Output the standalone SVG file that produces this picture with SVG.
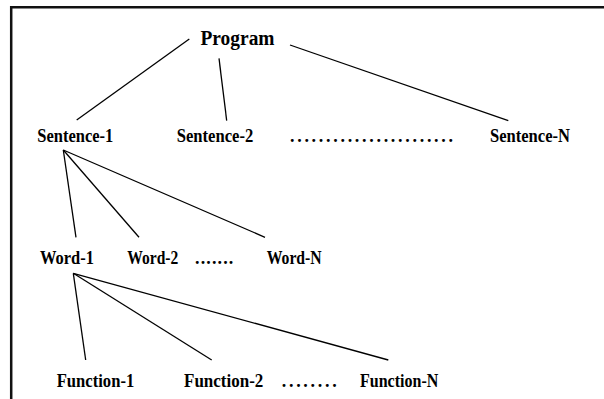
<svg xmlns="http://www.w3.org/2000/svg" width="604" height="399" viewBox="0 0 604 399">
  <style>
    .lbl { font-family: "Liberation Serif", "Times New Roman", serif; font-weight: bold; font-size: 18px; fill: #000; }
    .top { font-size: 20px; }
    .edge { stroke: #000; stroke-width: 1.3; fill: none; }
  </style>
  <rect width="604" height="399" fill="#fff"/>
  <path d="M11.2,399 V7.3 H604" fill="none" stroke="#111" stroke-width="2.5"/>
  <g id="connectors">
    <line class="edge" x1="189.3" y1="39" x2="76.7" y2="120"/>
    <line class="edge" x1="219" y1="58.3" x2="226.7" y2="120.7"/>
    <line class="edge" x1="290" y1="45" x2="508.3" y2="120.7"/>
    <line class="edge" x1="63.3" y1="150" x2="76" y2="237.3"/>
    <line class="edge" x1="63.3" y1="150" x2="139" y2="237.3"/>
    <line class="edge" x1="63.3" y1="150" x2="265" y2="237.3"/>
    <line class="edge" x1="73.3" y1="273.3" x2="85.7" y2="360"/>
    <line class="edge" x1="73.3" y1="273.3" x2="211.7" y2="360"/>
    <line class="edge" x1="73.3" y1="273.3" x2="388.3" y2="360"/>
  </g>
  <g id="program"><text class="lbl top" x="200.5" y="45" textLength="74" lengthAdjust="spacingAndGlyphs">Program</text></g>
  <g id="sentence-1"><text class="lbl" x="37.3" y="142" textLength="76" lengthAdjust="spacingAndGlyphs">Sentence-1</text></g>
  <g id="sentence-2"><text class="lbl" x="176.7" y="142" textLength="76.6" lengthAdjust="spacingAndGlyphs">Sentence-2</text></g>
  <g id="sentence-dots"><text class="lbl" x="290" y="142" textLength="163" lengthAdjust="spacing">.......................</text></g>
  <g id="sentence-n"><text class="lbl" x="490" y="142" textLength="80" lengthAdjust="spacingAndGlyphs">Sentence-N</text></g>
  <g id="word-1"><text class="lbl" x="40" y="264" textLength="54" lengthAdjust="spacingAndGlyphs">Word-1</text></g>
  <g id="word-2"><text class="lbl" x="127.3" y="264" textLength="51" lengthAdjust="spacingAndGlyphs">Word-2</text></g>
  <g id="word-dots"><text class="lbl" x="195" y="264" textLength="38.3" lengthAdjust="spacing">.......</text></g>
  <g id="word-n"><text class="lbl" x="266.7" y="264" textLength="55" lengthAdjust="spacingAndGlyphs">Word-N</text></g>
  <g id="function-1"><text class="lbl" x="56.7" y="387" textLength="77.6" lengthAdjust="spacingAndGlyphs">Function-1</text></g>
  <g id="function-2"><text class="lbl" x="184" y="387" textLength="79.3" lengthAdjust="spacingAndGlyphs">Function-2</text></g>
  <g id="function-dots"><text class="lbl" x="281.7" y="387" textLength="55" lengthAdjust="spacing">........</text></g>
  <g id="function-n"><text class="lbl" x="360" y="387" textLength="78.3" lengthAdjust="spacingAndGlyphs">Function-N</text></g>
</svg>
